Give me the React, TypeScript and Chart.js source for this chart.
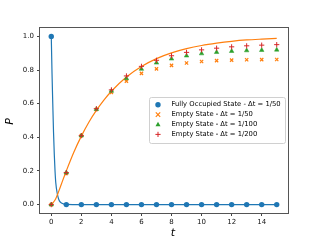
import React, { useEffect, useRef } from "react";
import { Chart, registerables } from "chart.js";

Chart.register(...registerables);

// ---- data ----
const xTicks = [0, 2, 4, 6, 8, 10, 12, 14];
const yTicks = [0, 0.2, 0.4, 0.6, 0.8, 1.0];

const stepT = [0, 1, 2, 3, 4, 5, 6, 7, 8, 9, 10, 11, 12, 13, 14, 15];
const fullyOccupied50 = [1, 0, 0, 0, 0, 0, 0, 0, 0, 0, 0, 0, 0, 0, 0, 0];
const empty50 = [0, 0.185, 0.41, 0.565, 0.667, 0.734, 0.78, 0.807, 0.828, 0.842, 0.851, 0.856, 0.859, 0.861, 0.862, 0.863];
const empty100 = [0, 0.19, 0.41, 0.567, 0.675, 0.75, 0.806, 0.843, 0.867, 0.885, 0.898, 0.906, 0.912, 0.916, 0.918, 0.92];
const empty200 = [0, 0.19, 0.41, 0.57, 0.682, 0.765, 0.822, 0.858, 0.885, 0.905, 0.92, 0.93, 0.938, 0.944, 0.948, 0.951];

const occCurveT = [0, 0.05, 0.1, 0.15, 0.2, 0.25, 0.3, 0.4, 0.5, 0.6, 0.8, 1, 2, 15];
const occCurveP = [1, 0.78, 0.6, 0.43, 0.3, 0.2, 0.13, 0.065, 0.03, 0.015, 0.004, 0.001, 0, 0];

const emptyCurveT = [0, 0.25, 0.5, 0.75, 1, 1.5, 2, 2.5, 3, 3.5, 4, 5, 6, 7, 8, 9, 10, 11, 12, 13, 14, 15];
const emptyCurveP = [0, 0.027, 0.08, 0.141, 0.2, 0.311, 0.407, 0.49, 0.56, 0.621, 0.674, 0.759, 0.821, 0.868, 0.902, 0.927, 0.946, 0.96, 0.971, 0.979, 0.984, 0.988];

const legendLabels = [
  "Fully Occupied State - \u0394t = 1/50",
  "Empty State - \u0394t = 1/50",
  "Empty State - \u0394t = 1/100",
  "Empty State - \u0394t = 1/200",
];

const BLUE = "#1f77b4";
const ORANGE = "#ff7f0e";
const GREEN = "#2ca02c";
const RED = "#d62728";

const toPts = (xs: number[], ys: number[]) => xs.map((x, i) => ({ x, y: ys[i] }));

function drawMarker(ctx: CanvasRenderingContext2D, kind: string, x: number, y: number, color: string) {
  ctx.save();
  ctx.fillStyle = color;
  ctx.strokeStyle = color;
  if (kind === "circle") {
    ctx.beginPath();
    ctx.arc(x, y, 2.7, 0, Math.PI * 2);
    ctx.fill();
  } else if (kind === "x") {
    const r = 2.2;
    ctx.lineWidth = 1.2;
    ctx.beginPath();
    ctx.moveTo(x - r, y - r);
    ctx.lineTo(x + r, y + r);
    ctx.moveTo(x - r, y + r);
    ctx.lineTo(x + r, y - r);
    ctx.stroke();
  } else if (kind === "tri") {
    const r = 2.8;
    ctx.beginPath();
    ctx.moveTo(x, y - r);
    ctx.lineTo(x + r * 0.9, y + r * 0.6);
    ctx.lineTo(x - r * 0.9, y + r * 0.6);
    ctx.closePath();
    ctx.fill();
  } else {
    const r = 2.6;
    ctx.lineWidth = 1;
    ctx.beginPath();
    ctx.moveTo(x - r, y);
    ctx.lineTo(x + r, y);
    ctx.moveTo(x, y - r);
    ctx.lineTo(x, y + r);
    ctx.stroke();
  }
  ctx.restore();
}

const framePlugin = {
  id: "frame",
  afterDatasetsDraw(chart: any) {
    const { ctx, chartArea: a } = chart;
    ctx.save();
    ctx.strokeStyle = "#555";
    ctx.lineWidth = 1;
    ctx.strokeRect(Math.round(a.left) - 0.5, Math.round(a.top) - 0.5, Math.round(a.right - a.left) + 1, Math.round(a.bottom - a.top) + 1);
    ctx.restore();
  },
  afterDraw(chart: any) {
    const { ctx, chartArea: a } = chart;
    // axis titles
    ctx.save();
    ctx.fillStyle = "#000";
    ctx.font = "italic 11px 'DejaVu Sans'";
    ctx.textAlign = "center";
    ctx.textBaseline = "middle";
    ctx.fillText("t", 173, a.bottom + 20);
    ctx.translate(10, (a.top + a.bottom) / 2 + 1);
    ctx.rotate(-Math.PI / 2);
    ctx.fillText("P", 0, 0);
    ctx.restore();

    // legend
    const bx = 149.5, by = 97.5, bw = 136, bh = 46, rr = 2;
    ctx.save();
    ctx.beginPath();
    ctx.moveTo(bx + rr, by);
    ctx.lineTo(bx + bw - rr, by);
    ctx.quadraticCurveTo(bx + bw, by, bx + bw, by + rr);
    ctx.lineTo(bx + bw, by + bh - rr);
    ctx.quadraticCurveTo(bx + bw, by + bh, bx + bw - rr, by + bh);
    ctx.lineTo(bx + rr, by + bh);
    ctx.quadraticCurveTo(bx, by + bh, bx, by + bh - rr);
    ctx.lineTo(bx, by + rr);
    ctx.quadraticCurveTo(bx, by, bx + rr, by);
    ctx.closePath();
    ctx.fillStyle = "rgba(255,255,255,0.8)";
    ctx.fill();
    ctx.strokeStyle = "#d0d0d0";
    ctx.lineWidth = 1;
    ctx.stroke();
    const kinds = ["circle", "x", "tri", "plus"];
    const colors = [BLUE, ORANGE, GREEN, RED];
    ctx.font = "6.8px 'DejaVu Sans'";
    ctx.textAlign = "left";
    ctx.textBaseline = "middle";
    for (let i = 0; i < 4; i++) {
      const yy = 104.7 + i * 9.9;
      drawMarker(ctx, kinds[i], 158, yy, colors[i]);
      ctx.fillStyle = "#000";
      ctx.fillText(legendLabels[i], 171.5, yy);
    }
    ctx.restore();
  },
};

export default function App() {
  const ref = useRef<HTMLCanvasElement>(null);
  useEffect(() => {
    document.body.style.margin = "0";
    const canvas = ref.current!;
    const chart = new Chart(canvas, {
      type: "scatter",
      data: {
        datasets: [
          {
            data: toPts(stepT, empty200),
            pointStyle: "cross",
            pointRadius: 2.6,
            borderWidth: 1,
            borderColor: RED,
            backgroundColor: RED,
            order: 0,
          },
          {
            data: toPts(stepT, empty100),
            pointStyle: "triangle",
            pointRadius: 2.6,
            borderWidth: 0.5,
            borderColor: GREEN,
            backgroundColor: GREEN,
            order: 1,
          },
          {
            data: toPts(stepT, empty50),
            pointStyle: "crossRot",
            pointRadius: 2.3,
            borderWidth: 1.2,
            borderColor: ORANGE,
            backgroundColor: ORANGE,
            order: 2,
          },
          {
            data: toPts(stepT, fullyOccupied50),
            pointStyle: "circle",
            pointRadius: 2.7,
            borderWidth: 0,
            borderColor: BLUE,
            backgroundColor: BLUE,
            order: 3,
          },
          {
            data: toPts(emptyCurveT, emptyCurveP),
            showLine: true,
            pointRadius: 0,
            borderWidth: 1.2,
            borderColor: ORANGE,
            backgroundColor: ORANGE,
            cubicInterpolationMode: "monotone",
            order: 4,
          } as any,
          {
            data: toPts(occCurveT, occCurveP),
            showLine: true,
            pointRadius: 0,
            borderWidth: 1.2,
            borderColor: BLUE,
            backgroundColor: BLUE,
            cubicInterpolationMode: "monotone",
            order: 5,
          } as any,
        ],
      },
      options: {
        responsive: false,
        animation: false,
        devicePixelRatio: 1,
        layout: { padding: { left: 0, top: 28, right: 32, bottom: 0 } },
        plugins: { legend: { display: false }, tooltip: { enabled: false }, title: { display: false } },
        scales: {
          x: {
            type: "linear",
            min: -0.75,
            max: 15.75,
            afterFit: (s: any) => { s.height = 27; },
            afterBuildTicks: (s: any) => { s.ticks = xTicks.map((v) => ({ value: v })); },
            border: { display: false },
            grid: { display: true, drawOnChartArea: false, drawTicks: true, tickLength: 3, color: "#444", lineWidth: 1 },
            ticks: {
              color: "#111",
              font: { family: "'DejaVu Sans'", size: 7 },
              padding: 2,
              maxRotation: 0,
              autoSkip: false,
              callback: (v: any) => String(v),
            },
          },
          y: {
            type: "linear",
            min: -0.05,
            max: 1.05,
            afterFit: (s: any) => { s.width = 40; },
            afterBuildTicks: (s: any) => { s.ticks = yTicks.map((v) => ({ value: v })); },
            border: { display: false },
            grid: { display: true, drawOnChartArea: false, drawTicks: true, tickLength: 3, color: "#444", lineWidth: 1 },
            ticks: {
              color: "#111",
              font: { family: "'DejaVu Sans'", size: 7 },
              padding: 3,
              autoSkip: false,
              callback: (v: any) => Number(v).toFixed(1),
            },
          },
        },
      },
      plugins: [framePlugin],
    });
    return () => chart.destroy();
  }, []);
  return (
    <div style={{ width: 320, height: 240, background: "#fff" }}>
      <canvas ref={ref} width={320} height={240} style={{ display: "block" }} />
    </div>
  );
}
